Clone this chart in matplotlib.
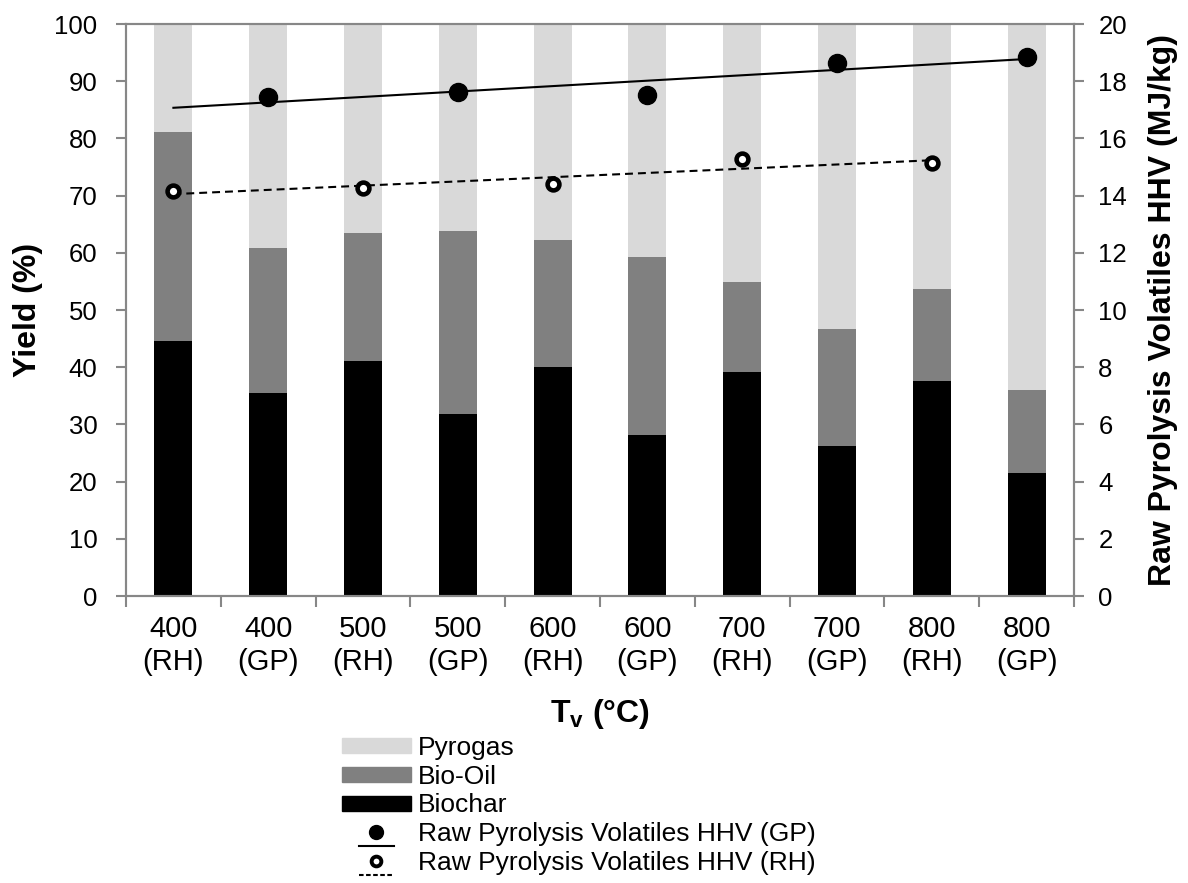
import numpy as np
import matplotlib
matplotlib.use("Agg")
import matplotlib.pyplot as plt
from matplotlib.lines import Line2D
from matplotlib.patches import Patch
from matplotlib.legend_handler import HandlerBase

plt.rcParams['font.family'] = ['Liberation Sans', 'DejaVu Sans']
plt.rcParams['mathtext.fontset'] = 'custom'
plt.rcParams['mathtext.rm'] = 'Liberation Sans'
plt.rcParams['mathtext.bf'] = 'Liberation Sans:bold'
plt.rcParams['mathtext.it'] = 'Liberation Sans:italic'

# ---- data ----
categories = ['400\n(RH)', '400\n(GP)', '500\n(RH)', '500\n(GP)', '600\n(RH)',
              '600\n(GP)', '700\n(RH)', '700\n(GP)', '800\n(RH)', '800\n(GP)']
biochar = [44.6, 35.5, 41.1, 31.8, 40.0, 28.1, 39.1, 26.3, 37.6, 21.5]
bio_oil = [36.6, 25.3, 22.4, 32.0, 22.2, 31.1, 15.8, 20.4, 16.1, 14.5]
pyrogas = [18.8, 39.2, 36.5, 36.2, 37.8, 40.8, 45.1, 53.3, 46.3, 64.0]
gp_index = [1, 3, 5, 7, 9]
hhv_gp = [17.46, 17.63, 17.52, 18.62, 18.86]
rh_index = [0, 2, 4, 6, 8]
hhv_rh = [14.17, 14.25, 14.39, 15.27, 15.14]

SPINE = '#878787'
C_PYRO = '#d9d9d9'
C_OIL = '#808080'
C_CHAR = '#000000'

fig = plt.figure(figsize=(11.88, 8.83), dpi=100)
ax = fig.add_axes([126/1188, 1-596/883, (1074-126)/1188, (596-24)/883])
ax2 = ax.twinx()

x = np.arange(len(categories))
w = 0.4
b1 = np.array(biochar)
b2 = b1 + np.array(bio_oil)
ax.bar(x, biochar, w, color=C_CHAR, zorder=2)
ax.bar(x, bio_oil, w, bottom=b1, color=C_OIL, zorder=2)
ax.bar(x, pyrogas, w, bottom=b2, color=C_PYRO, zorder=2)

ax.set_xlim(-0.5, len(categories) - 0.5)
ax.set_ylim(0, 100)
ax.set_yticks(np.arange(0, 101, 10))
ax2.set_ylim(0, 20)
ax2.set_yticks(np.arange(0, 21, 2))

# x ticks: boundaries as major ticks, labels at centres
ax.set_xticks(np.arange(-0.5, len(categories), 1.0))
ax.set_xticklabels([])
ax.set_xticks(x, minor=True)
ax.set_xticklabels(categories, minor=True, fontsize=21, linespacing=1.2)
ax.tick_params(axis='x', which='major', length=8, width=1.5, color=SPINE, direction='out')
ax.tick_params(axis='x', which='minor', length=0, pad=14)
ax.tick_params(axis='y', length=7.5, width=1.5, color=SPINE, direction='out', labelsize=18.5, pad=13)
ax2.tick_params(axis='y', length=7.5, width=1.5, color=SPINE, direction='out', labelsize=18.5, pad=10)

for a in (ax, ax2):
    for s in a.spines.values():
        s.set_color(SPINE)
        s.set_linewidth(1.5)

# trendlines (linear fits of each series)
pg = np.polyfit(gp_index, hhv_gp, 1)
pr = np.polyfit(rh_index, hhv_rh, 1)
xg = np.array([0, 9])
xr = np.array([0, 8])
ax2.plot(xg, np.polyval(pg, xg), color='black', lw=1.5, zorder=3)
ax2.plot(xr, np.polyval(pr, xr), color='black', lw=1.5, dashes=(3.8, 2.4), zorder=3)
ax2.plot(gp_index, hhv_gp, linestyle='none', marker='o', ms=13,
         mfc='black', mec='black', zorder=4)
ax2.plot(rh_index, hhv_rh, linestyle='none', marker='o', ms=8.5,
         mfc='white', mec='black', mew=3.3, zorder=4)

ax.set_ylabel('Yield (%)', fontsize=23, fontweight='bold', labelpad=8)
ax2.set_ylabel('Raw Pyrolysis Volatiles HHV (MJ/kg)', fontsize=23, fontweight='bold', labelpad=15)
ax.set_xlabel(r'$\mathbf{T_v}$ (°C)', fontsize=23, fontweight='bold', labelpad=15)


class HandlerMarkerTrend(HandlerBase):
    def create_artists(self, legend, orig_handle, xdescent, ydescent,
                       width, height, fontsize, trans):
        mk, ln = orig_handle
        cx = width / 2 - xdescent
        cy = height / 2 - ydescent
        m = Line2D([cx], [cy], linestyle='none', marker='o',
                   markersize=mk.get_markersize(), markerfacecolor=mk.get_markerfacecolor(),
                   markeredgecolor=mk.get_markeredgecolor(),
                   markeredgewidth=mk.get_markeredgewidth())
        l = Line2D([cx - 12.5, cx + 12.5], [cy - 10.5, cy - 10.5], color='black',
                   linestyle=ln.get_linestyle(), linewidth=ln.get_linewidth())
        if ln.get_linestyle() != '-':
            l.set_dashes((2.2, 1.2))
        m.set_transform(trans)
        l.set_transform(trans)
        return [l, m]


h_pyro = Patch(color=C_PYRO)
h_oil = Patch(color=C_OIL)
h_char = Patch(color=C_CHAR)
h_gp = (Line2D([], [], marker='o', ms=10, mfc='black', mec='black', mew=1),
        Line2D([], [], color='black', lw=1.5, linestyle='-'))
h_rh = (Line2D([], [], marker='o', ms=7, mfc='white', mec='black', mew=2.8),
        Line2D([], [], color='black', lw=1.5, linestyle='--'))

fig.legend([h_pyro, h_oil, h_char, h_gp, h_rh],
           ['Pyrogas', 'Bio-Oil', 'Biochar',
            'Raw Pyrolysis Volatiles HHV (GP)', 'Raw Pyrolysis Volatiles HHV (RH)'],
           handler_map={tuple: HandlerMarkerTrend()},
           loc='upper left', bbox_to_anchor=(342/1188, 1-736/883),
           frameon=False, fontsize=19, handlelength=2.6, handleheight=0.5,
           handletextpad=0.28, labelspacing=0.18, borderpad=0, borderaxespad=0)

fig.savefig('out.png', dpi=100)
